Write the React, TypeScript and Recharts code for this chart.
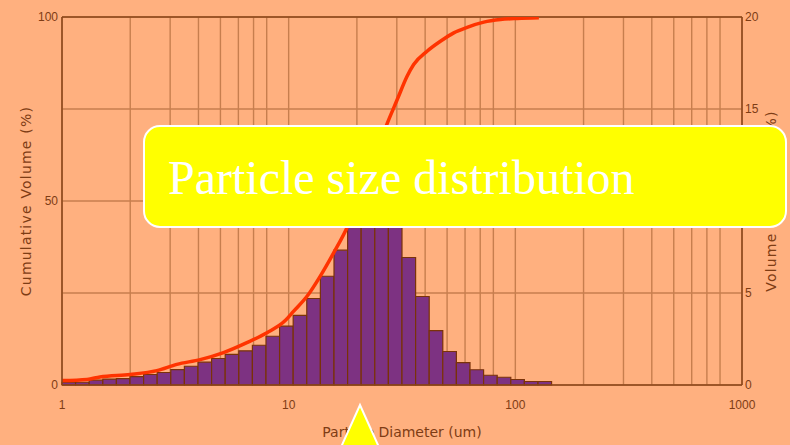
import {
  ComposedChart,
  XAxis,
  YAxis,
  CartesianGrid,
  Line,
  ReferenceArea,
  ReferenceLine,
  Label,
} from 'recharts';

// bin edges of the size classes (um)
const binEdges = [
  1.0, 1.148, 1.318, 1.514, 1.738, 1.995, 2.291, 2.63, 3.02, 3.467, 3.981, 4.571,
  5.248, 6.026, 6.918, 7.943, 9.12, 10.47, 12.02, 13.8, 15.85, 18.2, 20.89, 23.99,
  27.54, 31.62, 36.31, 41.69, 47.86, 54.95, 63.1, 72.44, 83.18, 95.5, 109.6, 125.9,
  144.5,
];

// volume % in each bin
const binVolume = [
  0.15, 0.15, 0.26, 0.32, 0.35, 0.46, 0.57, 0.68, 0.84, 1.02, 1.24, 1.44, 1.66, 1.86,
  2.16, 2.65, 3.2, 3.78, 4.7, 5.91, 7.33, 9.3, 10.4, 10.6, 9.2, 6.93, 4.81, 2.96,
  1.82, 1.22, 0.83, 0.53, 0.42, 0.3, 0.19, 0.19,
];

// cumulative curve
const cumSize = [
  1.0, 1.29, 1.47, 2.0, 2.62, 3.21, 4.07, 5.16, 6.54, 8.02, 9.66, 10.5, 12.05, 13.79,
  15.79, 18.1, 20.7, 23.9, 27.3, 30.1, 33.3, 35.6, 40.8, 46.7, 53.5, 61.3, 72.6, 86.0,
  102, 127,
];
const cumVolume = [
  1.2, 1.5, 2.2, 2.85, 3.9, 5.6, 6.9, 8.8, 11.5, 14.2, 17.5, 20.0, 24.1, 29.6, 35.9,
  42.8, 52, 62, 71.3, 77.5, 83.9, 87.1, 90.7, 93.4, 95.7, 97.2, 98.6, 99.3, 99.6, 99.8,
];

const sizeTicks = [
  1, 2, 3, 4, 5, 6, 7, 8, 9, 10, 20, 30, 40, 50, 60, 70, 80, 90, 100, 200, 300, 400,
  500, 600, 700, 800, 900, 1000,
];
const decadeTicks = [1, 10, 100, 1000];
const cumTicks = [0, 50, 100];
const volTicks = [0, 5, 10, 15, 20];

const cumulative = cumSize.map((size, i) => ({ size, cum: cumVolume[i] }));

const BG = '#FFB07F';
const AXIS = '#8A4418';
const GRID = '#C77E4E';
const TEXT = '#7E3C14';
const tickStyle = { fill: TEXT, fontSize: 12, fontFamily: 'Liberation Sans, Arial, sans-serif' };
const labelStyle = { fill: TEXT, fontSize: 14, fontFamily: 'DejaVu Sans, sans-serif' };

export default function App() {
  return (
    <div style={{ position: 'absolute', left: 0, top: 0, width: 790, height: 445, background: BG, overflow: 'hidden' }}>
      <ComposedChart
        width={790}
        height={445}
        data={cumulative}
        margin={{ top: 17, right: 0, bottom: 0, left: 0 }}
      >
        <CartesianGrid yAxisId="right" stroke={GRID} strokeWidth={1.4} />
        <XAxis
          dataKey="size"
          type="number"
          scale="log"
          domain={[1, 1000]}
          allowDataOverflow
          ticks={sizeTicks}
          tickFormatter={(v: number) => (decadeTicks.includes(v) ? String(v) : '')}
          height={60}
          tickLine={false}
          tickSize={0}
          tickMargin={15}
          axisLine={{ stroke: AXIS, strokeWidth: 1.5 }}
          tick={tickStyle}
        >
          <Label value="Particle Diameter (um)" position="center" dy={17} style={labelStyle} />
        </XAxis>
        <YAxis
          yAxisId="left"
          domain={[0, 100]}
          allowDataOverflow
          ticks={cumTicks}
          width={62}
          tickLine={false}
          tickSize={0}
          tickMargin={4}
          axisLine={{ stroke: AXIS, strokeWidth: 1.5 }}
          tick={tickStyle}
        >
          <Label
            value="Cumulative Volume (%)"
            angle={-90}
            position="center"
            dx={-5}
            style={{ ...labelStyle, letterSpacing: 1.2 }}
          />
        </YAxis>
        <YAxis
          yAxisId="right"
          orientation="right"
          domain={[0, 20]}
          allowDataOverflow
          ticks={volTicks}
          width={48}
          tickLine={false}
          tickSize={0}
          tickMargin={3}
          axisLine={{ stroke: AXIS, strokeWidth: 1.5 }}
          tick={tickStyle}
        >
          <Label
            value="Volume Frequency (%)"
            angle={-90}
            position="center"
            dx={5}
            style={{ ...labelStyle, letterSpacing: 1.2 }}
          />
        </YAxis>
        {binVolume.map((v, i) => (
          <ReferenceArea
            key={i}
            yAxisId="right"
            x1={binEdges[i]}
            x2={binEdges[i + 1]}
            y1={0}
            y2={v}
            fill="#7D3282"
            fillOpacity={1}
            stroke="#7A3208"
            strokeWidth={1.2}
          />
        ))}
        <ReferenceLine yAxisId="left" y={100} stroke={AXIS} strokeWidth={1.5} />
        <Line
          yAxisId="left"
          dataKey="cum"
          type="monotone"
          stroke="#FF3300"
          strokeWidth={3.5}
          dot={false}
          isAnimationActive={false}
        />
      </ComposedChart>
      <svg
        width={790}
        height={445}
        style={{ position: 'absolute', left: 0, top: 0, pointerEvents: 'none' }}
      >
        <rect x={144} y={126} width={642} height={101} rx={16} fill="#FFFF00" stroke="#FFFFFF" strokeWidth={2} />
        <text
          x={168}
          y={194}
          fill="#FFFFFF"
          fontFamily="Liberation Serif, Times New Roman, serif"
          fontSize={48}
        >
          Particle size distribution
        </text>
        <polygon points="360,405 339.75,450 380.25,450" fill="#FFFF00" stroke="#FFFFFF" strokeWidth={2} />
      </svg>
    </div>
  );
}
